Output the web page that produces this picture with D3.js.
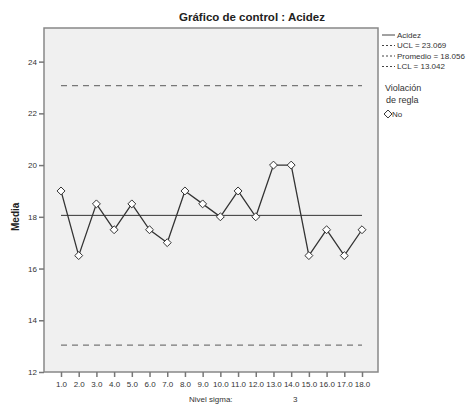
<!DOCTYPE html>
<html>
<head>
<meta charset="utf-8">
<title>Gráfico de control : Acidez</title>
<script src="https://cdn.jsdelivr.net/npm/d3@7"></script>
<style>
  body { margin: 0; background: #fff; font-family: "Liberation Sans", Arial, sans-serif; }
  .axis text { font-size: 8px; fill: #333; }
  .axis path, .axis line { stroke: #777; stroke-width: 1.5; }
  .legend text { font-size: 8px; fill: #333; }
</style>
</head>
<body>
<div id="vis"></div>
<script>
  // data
  var samples = ["1.0","2.0","3.0","4.0","5.0","6.0","7.0","8.0","9.0","10.0","11.0","12.0","13.0","14.0","15.0","16.0","17.0","18.0"],
      acidez = [19, 16.5, 18.5, 17.5, 18.5, 17.5, 17, 19, 18.5, 18, 19, 18, 20, 20, 16.5, 17.5, 16.5, 17.5],
      yTicks = [12, 14, 16, 18, 20, 22, 24],
      ucl = 23.069,
      promedio = 18.056,
      lcl = 13.042;

  var width = 472, height = 406,
      plotLeft = 44, plotRight = 378, plotTop = 28, plotBottom = 372;

  var svg = d3.select("#vis").append("svg")
      .attr("width", width)
      .attr("height", height);

  var x = d3.scalePoint().domain(samples).range([61, 362]);
  var y = d3.scaleLinear().domain([12, 25.3]).range([plotBottom, plotTop]);

  // plot frame
  svg.append("rect")
      .attr("x", plotLeft).attr("y", plotTop)
      .attr("width", plotRight - plotLeft).attr("height", plotBottom - plotTop)
      .style("fill", "#f0f0f0")
      .style("stroke", "#888")
      .style("stroke-width", 1.5);

  // axes
  svg.append("g")
      .attr("class", "axis")
      .attr("transform", "translate(" + plotLeft + ",0)")
      .call(d3.axisLeft(y).tickValues(yTicks).tickSize(5).tickPadding(2).tickFormat(d3.format("d")))
      .call(function(g) { g.select(".domain").remove(); });

  var xAxis = svg.append("g")
      .attr("class", "axis")
      .attr("transform", "translate(0," + plotBottom + ")")
      .call(d3.axisBottom(x).tickSize(5).tickPadding(3));
  xAxis.select(".domain").remove();
  xAxis.selectAll("text").style("font-size", "8px").attr("dy", "0.9em");

  // control limits
  var x0 = x(samples[0]), x1 = x(samples[samples.length - 1]);
  [ucl, lcl].forEach(function(v) {
    svg.append("line")
        .attr("x1", x0).attr("x2", x1)
        .attr("y1", y(v)).attr("y2", y(v))
        .style("stroke", "#777")
        .style("stroke-width", 1.3)
        .style("stroke-dasharray", "6,5");
  });
  svg.append("line")
      .attr("x1", x0).attr("x2", x1)
      .attr("y1", y(promedio)).attr("y2", y(promedio))
      .style("stroke", "#333")
      .style("stroke-width", 1);

  // series
  var line = d3.line()
      .x(function(d, i) { return x(samples[i]); })
      .y(function(d) { return y(d); });

  svg.append("path")
      .datum(acidez)
      .attr("d", line)
      .style("fill", "none")
      .style("stroke", "#333")
      .style("stroke-width", 1.3);

  var diamond = d3.symbol().type(d3.symbolDiamond2).size(40);
  svg.append("g")
    .selectAll("path")
    .data(acidez)
    .enter().append("path")
      .attr("d", diamond)
      .attr("transform", function(d, i) { return "translate(" + x(samples[i]) + "," + y(d) + ")"; })
      .style("fill", "#fff")
      .style("stroke", "#333")
      .style("stroke-width", 1);

  // titles
  svg.append("text")
      .attr("x", 252).attr("y", 21)
      .attr("text-anchor", "middle")
      .style("font-size", "11.5px")
      .style("font-weight", "bold")
      .style("fill", "#222")
      .text("Gráfico de control : Acidez");

  svg.append("text")
      .attr("transform", "translate(19," + y(18) + ") rotate(-90)")
      .attr("text-anchor", "middle")
      .style("font-size", "10px")
      .style("font-weight", "bold")
      .style("fill", "#222")
      .text("Media");

  svg.append("text")
      .attr("x", 189).attr("y", 402)
      .style("font-size", "8px").style("fill", "#333")
      .text("Nivel sigma:");
  svg.append("text")
      .attr("x", 293).attr("y", 402)
      .style("font-size", "8px").style("fill", "#333")
      .text("3");

  // legend
  var legendItems = [
    { label: "Acidez", dash: null },
    { label: "UCL = 23.069", dash: "2,2" },
    { label: "Promedio = 18.056", dash: "2,2" },
    { label: "LCL = 13.042", dash: "2,2" }
  ];
  var legend = svg.append("g").attr("class", "legend");
  var item = legend.selectAll("g")
      .data(legendItems)
      .enter().append("g")
      .attr("transform", function(d, i) { return "translate(382," + (35 + i * 10.5) + ")"; });
  item.append("line")
      .attr("x1", 0).attr("x2", 13)
      .style("stroke", "#444")
      .style("stroke-width", 1)
      .style("stroke-dasharray", function(d) { return d.dash; });
  item.append("text")
      .attr("x", 15).attr("dy", "0.35em")
      .text(function(d) { return d.label; });

  legend.append("text").attr("x", 385).attr("y", 91)
      .style("font-size", "9px").text("Violación");
  legend.append("text").attr("x", 386).attr("y", 103)
      .style("font-size", "9px").text("de regla");
  legend.append("path")
      .attr("d", diamond)
      .attr("transform", "translate(388,114)")
      .style("fill", "#fff").style("stroke", "#333");
  legend.append("text").attr("x", 392).attr("y", 117).text("No");
</script>
</body>
</html>
